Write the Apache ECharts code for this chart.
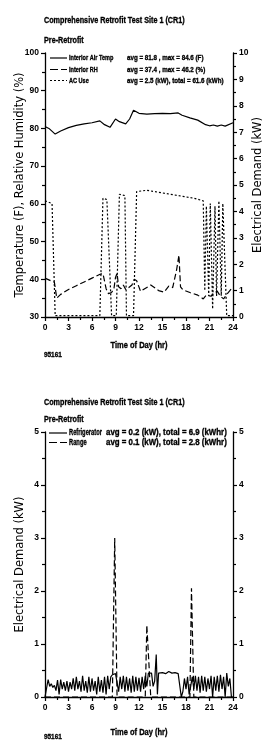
<!DOCTYPE html>
<html><head><meta charset="utf-8">
<script src="https://cdn.jsdelivr.net/npm/echarts@6/dist/echarts.min.js"></script>
<style>html,body{margin:0;padding:0;background:#fff}#c{width:265px;height:750px}</style>
</head><body><div id="c"></div>
<script>
// ---- data ----
const titleText = 'Comprehensive Retrofit Test Site 1 (CR1)';
const subTitle = 'Pre-Retrofit';
const siteCode = '95161';
const xName = 'Time of Day (hr)';
const xTicks = [0, 3, 6, 9, 12, 15, 18, 21, 24];

const topNames = ['Interior Air Temp', 'Interior RH', 'AC Use'];
const topStats = ['avg = 81.8 , max = 84.6 (F)', 'avg = 37.4 , max = 46.2 (%)', 'avg = 2.5 (kW), total = 61.6 (kWh)'];
const botNames = ['Refrigerator', 'Range'];
const botStats = ['avg = 0.2 (kW), total = 6.9 (kWhr)', 'avg = 0.1 (kW), total = 2.8 (kWhr)'];

const tempData = [[0,80.5],[0.5,80.0],[1.3,78.5],[2,79.3],[3,80.2],[4,80.8],[5,81.2],[6,81.5],[7,82.0],[7.6,81.0],[8.3,80.3],[9.0,82.5],[9.5,81.8],[10.3,81.2],[10.8,82.5],[11.3,84.8],[12,84.0],[13,83.8],[14,83.9],[15,84.0],[16,83.9],[17,84.1],[17.5,83.5],[18.5,82.8],[19.5,82.2],[20.5,81.0],[21,80.7],[21.5,80.9],[22,80.6],[22.5,80.9],[23,80.6],[24,81.5]];

const rhData = [[0,40.3],[1.2,39.2],[1.5,35],[2,36],[3,37.3],[4,38.3],[5,39.3],[6,40.3],[7.1,41.4],[7.4,41.5],[7.8,37.5],[8.1,36.2],[8.5,36.5],[8.8,37.5],[9.0,40.5],[9.2,41.6],[9.4,38.0],[9.7,37.5],[10.0,38.5],[10.3,37.3],[10.7,37.8],[11.1,38.5],[11.4,40.0],[11.7,39.6],[12.2,36.8],[13.5,38.5],[14.5,37.0],[15.2,36.6],[15.8,38.2],[16.3,37.8],[16.8,42.5],[17.1,46.4],[17.3,38.0],[17.6,37.2],[18.5,36.5],[19.5,35.8],[20.2,34.8],[20.6,35.8],[21.2,35.5],[21.6,36.5],[22.0,36.8],[22.4,35.5],[22.8,34.8],[23.2,36.0],[23.6,37.0],[24,38.0]];

const acData = [[0,4.4],[0.9,4.3],[1.3,0.05],[7.0,0.05],[7.4,4.5],[7.9,4.45],[8.5,0.05],[9.1,0.05],[9.5,4.65],[10.2,4.6],[10.4,0.05],[11.3,0.05],[11.7,4.75],[13,4.8],[15,4.7],[17,4.6],[19,4.5],[20.2,4.4],[20.4,1.0],[20.6,4.2],[20.9,0.8],[21.1,4.3],[21.4,0.3],[21.7,4.2],[21.9,0.8],[22.2,4.4],[22.5,0.8],[22.7,4.3],[23.2,0.05],[24,0.05]];

const fridgeData = [[0,0],[0.2,0],[0.4,0.33],[0.6,0.2],[0.8,0.25],[1.0,0.18],[1.2,0.22],[1.4,0.12],[1.6,0.32],[1.8,0.05],[2.0,0.33],[2.2,0.15],[2.4,0.28],[2.6,0.12],[2.8,0.3],[3.0,0.1],[3.2,0.28],[3.4,0.15],[3.6,0.35],[3.8,0.12],[4.0,0.38],[4.2,0.15],[4.4,0.3],[4.6,0.1],[4.8,0.4],[5.0,0.12],[5.2,0.3],[5.4,0.08],[5.6,0.38],[5.8,0.1],[6.0,0.35],[6.2,0.12],[6.4,0.3],[6.6,0.05],[6.8,0.38],[7.0,0.1],[7.2,0.32],[7.4,0.08],[7.6,0.38],[7.8,0.05],[8.0,0.4],[8.2,0.15],[8.4,0.38],[8.6,0.42],[8.8,0.45],[9.0,0.44],[9.2,0.42],[9.4,0.1],[9.6,0.38],[9.8,0.15],[10.0,0.4],[10.2,0.1],[10.4,0.38],[10.6,0.12],[10.8,0.35],[11.0,0.08],[11.2,0.4],[11.4,0.1],[11.6,0.38],[11.8,0.12],[12.0,0.36],[12.2,0.1],[12.4,0.38],[12.6,0.15],[12.8,0.4],[13.0,0.2],[13.2,0.45],[13.4,0.42],[13.6,0.45],[13.8,0.2],[14.0,0.3],[14.2,0.8],[14.35,0.05],[14.5,0.45],[15.0,0.46],[15.4,0.44],[15.8,0.48],[16.2,0.45],[16.6,0.46],[17.0,0.44],[17.2,0.42],[17.4,0.0],[17.6,0.1],[17.8,0.35],[18.0,0.15],[18.2,0.38],[18.4,0.05],[18.6,0.2],[18.8,0.38],[19.0,0.15],[19.2,0.4],[19.4,0.12],[19.6,0.38],[19.8,0.08],[20.0,0.4],[20.2,0.12],[20.4,0.38],[20.6,0.1],[20.8,0.35],[21.0,0.15],[21.2,0.4],[21.4,0.0],[21.6,0.38],[21.8,0.12],[22.0,0.4],[22.2,0.1],[22.4,0.42],[22.6,0.15],[22.8,0.38],[23.0,0.0],[23.2,0.45],[23.4,0.2],[23.6,0.35],[23.8,0.0],[24.0,0.0]];

const rangeData = [[0,0],[8.6,0],[8.9,3.0],[9.2,0],[12.8,0],[13.0,1.35],[13.5,0],[18.5,0],[18.7,2.05],[19.0,0],[24,0]];

// ---- styles ----
const SANS = "'Liberation Sans',Arial,sans-serif";
const WIDE = "'DejaVu Sans',sans-serif";
const dashRH = [6, 3];
const dashAC = [2, 2];
const dashRange = [6, 3];

const chart = echarts.init(document.getElementById('c'), null, {renderer: 'canvas'});

const gridL = 45, gridR = 32;
const tickLabel = {color: '#000', fontFamily: SANS, fontWeight: 'bold', fontSize: 8.5};
const axisLine = {show: true, lineStyle: {color: '#000', width: 1.3}};
const axisTick = {show: true, length: 4, lineStyle: {color: '#000', width: 1.2}};
const minorTick = {show: true, splitNumber: 2, length: 3, lineStyle: {color: '#000', width: 1.2}};

function xAx(gi) {
  return {type: 'value', gridIndex: gi, min: xTicks[0], max: xTicks[xTicks.length - 1], interval: 3,
    axisLine, axisTick, minorTick, splitLine: {show: false},
    axisLabel: Object.assign({margin: 6}, tickLabel)};
}
function yAx(gi, pos, min, max, iv, name, gap) {
  return {type: 'value', gridIndex: gi, position: pos, min, max, interval: iv,
    axisLine, axisTick, minorTick, splitLine: {show: false},
    axisLabel: Object.assign({margin: 6}, tickLabel),
    name: name || '', nameLocation: 'middle', nameGap: gap || 0, nameRotate: 90, nameMoveOverlap: false,
    nameTextStyle: {color: '#000', fontFamily: WIDE, fontSize: 11.5}};
}

function txt(text, x, y, size, sx, align) {
  return {type: 'text', x, y, scaleX: sx, z: 100,
    style: {text, fill: '#000', stroke: '#000', lineWidth: 0.35, fontSize: size, fontWeight: 'bold', fontFamily: SANS,
      align: align || 'left', verticalAlign: 'middle'}};
}
function sample(x1, x2, y, dash) {
  return {type: 'line', z: 100, shape: {x1, y1: y, x2, y2: y},
    style: {stroke: '#000', lineWidth: 1.2, lineDash: dash || null}};
}

const graphics = [
  txt(titleText, 44, 20, 9.5, 0.76),
  txt(subTitle, 44, 40, 9.5, 0.76),
  txt(xName, 139, 345, 9.5, 0.79, 'center'),
  txt(siteCode, 44, 355, 8, 0.8),
  txt(titleText, 44, 402, 9.5, 0.76),
  txt(subTitle, 44, 419, 9.5, 0.76),
  txt(xName, 139, 732, 9.5, 0.79, 'center'),
  txt(siteCode, 44, 737, 8, 0.8),
  // top legend
  sample(50, 67, 58, null), txt(topNames[0], 69, 58, 7.5, 0.74), txt(topStats[0], 127, 58, 7.5, 0.83),
  sample(50, 67, 69.5, [8, 3]), txt(topNames[1], 69, 69.5, 7.5, 0.74), txt(topStats[1], 127, 69.5, 7.5, 0.83),
  sample(50, 67, 80.5, dashAC), txt(topNames[2], 69, 80.5, 7.5, 0.74), txt(topStats[2], 127, 80.5, 7.5, 0.83),
  // bottom legend
  sample(49, 67, 433, null), txt(botNames[0], 69, 433, 9, 0.64), txt(botStats[0], 106, 433, 9, 0.875),
  sample(49, 67, 442.5, [8, 3]), txt(botNames[1], 69, 442.5, 9, 0.64), txt(botStats[1], 106, 442.5, 9, 0.875)
];

const option = {
  animation: false,
  backgroundColor: '#fff',
  grid: [
    {left: gridL, right: gridR, top: 53, height: 264, outerBoundsMode: 'none', containLabel: false},
    {left: gridL, right: gridR, top: 432, height: 265, outerBoundsMode: 'none', containLabel: false}
  ],
  xAxis: [xAx(0), xAx(1)],
  yAxis: [
    yAx(0, 'left', 30, 100, 10, 'Temperature (F), Relative Humidity (%)', 19),
    yAx(0, 'right', 0, 10, 1, 'Electrical Demand (kW)', 19),
    yAx(1, 'left', 0, 5, 1, 'Electrical Demand (kW)', 19),
    yAx(1, 'right', 0, 5, 1, '', 0)
  ],
  graphic: graphics,
  series: [
    {name: topNames[0], type: 'line', xAxisIndex: 0, yAxisIndex: 0, data: tempData, symbol: 'none',
      lineStyle: {color: '#000', width: 1.2, type: 'solid'}},
    {name: topNames[1], type: 'line', xAxisIndex: 0, yAxisIndex: 0, data: rhData, symbol: 'none',
      lineStyle: {color: '#000', width: 1.2, type: dashRH}},
    {name: topNames[2], type: 'line', xAxisIndex: 0, yAxisIndex: 1, data: acData, symbol: 'none',
      lineStyle: {color: '#000', width: 1.2, type: dashAC}},
    {name: botNames[0], type: 'line', xAxisIndex: 1, yAxisIndex: 2, data: fridgeData, symbol: 'none',
      lineStyle: {color: '#000', width: 1.2, type: 'solid'}},
    {name: botNames[1], type: 'line', xAxisIndex: 1, yAxisIndex: 2, data: rangeData, symbol: 'none',
      lineStyle: {color: '#000', width: 1.2, type: dashRange}}
  ]
};
chart.setOption(option);
</script></body></html>
